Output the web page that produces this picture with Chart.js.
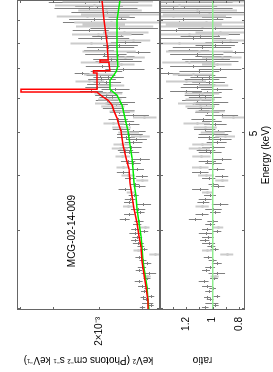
<!DOCTYPE html>
<html>
<head>
<meta charset="utf-8">
<script src="https://cdn.jsdelivr.net/npm/chart.js@4.4.1/dist/chart.umd.min.js"></script>
<style>
  html, body { margin: 0; padding: 0; background: #fff; }
  body { width: 273px; height: 372px; overflow: hidden; position: relative; }
  /* the figure is drawn upright, then turned a quarter turn to the left */
  #figure { position: absolute; left: 0; top: 0; width: 372px; height: 273px;
    transform-origin: 0 0; transform: translate(0, 372px) rotate(-90deg); }
  canvas { display: block; }
</style>
</head>
<body>
<div id="figure">
  <canvas id="spectrum" width="372" height="160"></canvas>
  <canvas id="ratio" width="372" height="113"></canvas>
</div>
<script>
// axis ranges and ticks
const energyMin = 1.985, energyMax = 10.05;
const fluxMin = 1.175e-3, fluxMax = 4.09e-3;
const ratioMin = 0.757, ratioMax = 1.396;

const energyTicks = [2, 3, 4, 5, 6, 7, 8, 9, 10];
const energyLabelTicks = [5];
const energyLabels = ['5'];
const fluxTicks = [2e-3, 3e-3, 4e-3];
const fluxLabelTicks = [2e-3];
const fluxLabels = ['2×10⁻³'];
const ratioTicks = [0.8, 0.9, 1.0, 1.1, 1.2, 1.3];
const ratioLabelTicks = [0.8, 1, 1.2];
const ratioLabels = ['0.8', '1', '1.2'];

const sourceName = 'MCG-02-14-009';
const sourceEnergy = 3.0, sourceFlux = 2.52e-3;

// data set 1 (dark)
const darkEnergy = [9.88, 9.67, 9.13, 8.93, 8.56, 8.37, 8.27, 8.04, 7.91, 7.70,
  7.60, 7.47, 7.27, 6.97, 6.83, 6.67, 6.52, 6.27, 6.17, 6.01,
  5.87, 5.63, 5.48, 5.30, 5.05, 4.96, 4.82, 4.63, 4.51, 4.35,
  4.26, 4.06, 3.99, 3.82, 3.72, 3.53, 3.43, 3.35, 3.26, 3.18,
  3.10, 3.02, 2.95, 2.89, 2.81, 2.72, 2.60, 2.53, 2.47, 2.40,
  2.30, 2.24, 2.18, 2.13, 2.09, 2.05, 2.01,
  9.60, 9.40, 9.05, 8.65, 8.19, 7.80, 7.53, 7.34, 7.08, 6.90,
  6.75, 6.60, 6.45, 6.33, 6.22, 6.09, 5.94, 5.80, 5.68, 5.55,
  5.36, 5.22, 5.10, 4.88, 4.75, 4.57, 4.30, 4.12, 3.93, 3.77,
  3.61, 3.48, 3.30, 3.14, 2.98, 2.85, 2.76, 2.57, 2.44, 2.33,
  2.21, 2.11, 2.03];
const darkFlux = [2.26e-3, 2.043e-3, 1.652e-3, 2.14e-3, 2.177e-3, 1.645e-3, 1.869e-3, 1.594e-3, 1.678e-3, 2.016e-3,
  1.424e-3, 1.700e-3, 1.720e-3, 1.619e-3, 2.323e-3, 1.856e-3, 1.874e-3, 1.744e-3, 1.825e-3, 1.785e-3,
  1.665e-3, 1.628e-3, 1.491e-3, 1.589e-3, 1.486e-3, 1.537e-3, 1.449e-3, 1.511e-3, 1.539e-3, 1.395e-3,
  1.483e-3, 1.620e-3, 1.378e-3, 1.461e-3, 1.596e-3, 1.526e-3, 1.359e-3, 1.425e-3, 1.538e-3, 1.600e-3,
  1.435e-3, 1.458e-3, 1.460e-3, 1.434e-3, 1.421e-3, 1.353e-3, 1.414e-3, 1.318e-3, 1.376e-3, 1.298e-3,
  1.416e-3, 1.374e-3, 1.354e-3, 1.268e-3, 1.331e-3, 1.310e-3, 1.369e-3,
  2.19e-3, 1.865e-3, 2.086e-3, 1.676e-3, 1.967e-3, 1.847e-3, 1.915e-3, 1.796e-3, 1.955e-3, 1.892e-3,
  1.982e-3, 1.963e-3, 2.000e-3, 2.036e-3, 2.148e-3, 1.881e-3, 1.873e-3, 1.719e-3, 1.771e-3, 1.674e-3,
  1.698e-3, 1.539e-3, 1.650e-3, 1.586e-3, 1.484e-3, 1.591e-3, 1.555e-3, 1.440e-3, 1.520e-3, 1.406e-3,
  1.479e-3, 1.543e-3, 1.401e-3, 1.412e-3, 1.351e-3, 1.464e-3, 1.389e-3, 1.363e-3, 1.412e-3, 1.317e-3,
  1.315e-3, 1.359e-3, 1.274e-3];
const darkFluxErr = [0.84e-3, 0.42e-3, 0.189e-3, 0.60e-3, 0.34e-3, 0.286e-3, 0.253e-3, 0.210e-3, 0.253e-3, 0.262e-3,
  0.147e-3, 0.233e-3, 0.342e-3, 0.274e-3, 0.150e-3, 0.245e-3, 0.224e-3, 0.212e-3, 0.194e-3, 0.208e-3,
  0.204e-3, 0.160e-3, 0.197e-3, 0.117e-3, 0.154e-3, 0.172e-3, 0.132e-3, 0.131e-3, 0.130e-3, 0.111e-3,
  0.093e-3, 0.092e-3, 0.072e-3, 0.054e-3, 0.091e-3, 0.071e-3, 0.089e-3, 0.089e-3, 0.070e-3, 0.069e-3,
  0.052e-3, 0.052e-3, 0.075e-3, 0.061e-3, 0.068e-3, 0.043e-3, 0.042e-3, 0.050e-3, 0.050e-3, 0.083e-3,
  0.049e-3, 0.049e-3, 0.033e-3, 0.033e-3, 0.033e-3, 0.064e-3, 0.032e-3,
  0.76e-3, 0.68e-3, 0.51e-3, 0.48e-3, 0.43e-3, 0.376e-3, 0.342e-3, 0.308e-3, 0.289e-3, 0.258e-3,
  0.248e-3, 0.236e-3, 0.218e-3, 0.218e-3, 0.215e-3, 0.188e-3, 0.184e-3, 0.164e-3, 0.163e-3, 0.145e-3,
  0.143e-3, 0.133e-3, 0.125e-3, 0.123e-3, 0.115e-3, 0.106e-3, 0.097e-3, 0.089e-3, 0.074e-3, 0.073e-3,
  0.065e-3, 0.065e-3, 0.057e-3, 0.056e-3, 0.049e-3, 0.048e-3, 0.041e-3, 0.041e-3, 0.040e-3, 0.040e-3,
  0.033e-3, 0.033e-3, 0.033e-3];
const darkRatio = [1.35, 1.216, 0.969, 1.25, 1.273, 0.962, 1.093, 0.932, 0.981, 1.179,
  0.833, 0.994, 1.006, 0.944, 1.335, 1.031, 1.031, 0.969, 1.043, 1.056,
  1.006, 1.006, 0.932, 1.006, 0.957, 0.994, 0.944, 0.994, 1.019, 0.932,
  0.994, 1.093, 0.932, 0.994, 1.093, 1.056, 0.944, 0.994, 1.080, 1.130,
  1.019, 1.043, 1.050, 1.036, 1.031, 0.986, 1.036, 0.969, 1.019, 0.969,
  1.068, 1.043, 1.031, 0.969, 1.019, 1.006, 1.056,
  1.30, 1.10, 1.22, 0.98, 1.15, 1.08, 1.12, 1.05, 1.15, 1.10,
  1.12, 1.08, 1.10, 1.12, 1.20, 1.10, 1.12, 1.05, 1.09, 1.04,
  1.07, 0.98, 1.06, 1.03, 0.97, 1.05, 1.04, 0.97, 1.03, 0.96,
  1.02, 1.07, 0.98, 1.00, 0.97, 1.06, 1.01, 1.00, 1.05, 0.99,
  1.00, 1.04, 0.98];
const darkRatioErr = [0.50, 0.25, 0.111, 0.35, 0.20, 0.167, 0.148, 0.123, 0.148, 0.153,
  0.086, 0.136, 0.200, 0.160, 0.086, 0.136, 0.123, 0.118, 0.111, 0.123,
  0.123, 0.099, 0.123, 0.074, 0.099, 0.111, 0.086, 0.086, 0.086, 0.074,
  0.062, 0.062, 0.049, 0.037, 0.062, 0.049, 0.062, 0.062, 0.049, 0.049,
  0.037, 0.037, 0.054, 0.044, 0.049, 0.031, 0.031, 0.037, 0.037, 0.062,
  0.037, 0.037, 0.025, 0.025, 0.025, 0.049, 0.025,
  0.45, 0.40, 0.30, 0.28, 0.25, 0.22, 0.20, 0.18, 0.17, 0.15,
  0.14, 0.13, 0.12, 0.12, 0.12, 0.11, 0.11, 0.10, 0.10, 0.09,
  0.09, 0.085, 0.08, 0.08, 0.075, 0.07, 0.065, 0.06, 0.05, 0.05,
  0.045, 0.045, 0.04, 0.04, 0.035, 0.035, 0.03, 0.03, 0.03, 0.03,
  0.025, 0.025, 0.025];

// data set 2 (light)
const lightEnergy = [9.97, 9.50, 9.29, 8.82, 8.71, 8.47, 8.12, 7.41, 7.15, 6.40,
  5.95, 5.73, 5.41, 5.14, 4.92, 4.71, 4.43, 4.17, 3.89, 3.66, 2.65, 2.36,
  9.75, 9.20, 8.90, 8.35, 7.98, 7.65, 7.22, 6.79, 6.55, 6.13,
  5.84, 5.58, 5.26, 5.00, 4.60, 4.00, 3.40, 3.05, 2.70];
const lightFlux = [2.00e-3, 1.888e-3, 1.744e-3, 1.953e-3, 1.847e-3, 1.614e-3, 1.488e-3, 1.594e-3, 1.657e-3, 1.807e-3,
  1.831e-3, 1.782e-3, 1.349e-3, 1.649e-3, 1.400e-3, 1.649e-3, 1.630e-3, 1.625e-3, 1.374e-3, 1.518e-3, 1.224e-3, 1.316e-3,
  2.096e-3, 2.213e-3, 1.796e-3, 2.018e-3, 2.138e-3, 1.881e-3, 2.006e-3, 2.018e-3, 2.182e-3, 1.858e-3,
  1.875e-3, 1.647e-3, 1.764e-3, 1.550e-3, 1.670e-3, 1.554e-3, 1.552e-3, 1.344e-3, 1.426e-3];
const lightFluxErr = [0.75e-3, 0.51e-3, 0.595e-3, 0.359e-3, 0.60e-3, 0.316e-3, 0.210e-3, 0.253e-3, 0.190e-3, 0.202e-3,
  0.186e-3, 0.181e-3, 0.137e-3, 0.134e-3, 0.114e-3, 0.113e-3, 0.104e-3, 0.092e-3, 0.072e-3, 0.054e-3, 0.067e-3, 0.041e-3,
  0.84e-3, 0.68e-3, 0.684e-3, 0.513e-3, 0.428e-3, 0.428e-3, 0.34e-3, 0.263e-3, 0.273e-3, 0.224e-3,
  0.197e-3, 0.178e-3, 0.158e-3, 0.14e-3, 0.121e-3, 0.089e-3, 0.072e-3, 0.056e-3, 0.055e-3];
const lightRatio = [1.20, 1.117, 1.026, 1.142, 1.080, 0.944, 0.870, 0.932, 0.969, 0.994,
  1.093, 1.093, 0.846, 1.056, 0.907, 1.080, 1.085, 1.093, 0.932, 1.043, 0.895, 0.986,
  1.25, 1.30, 1.05, 1.18, 1.25, 1.10, 1.18, 1.15, 1.20, 1.08,
  1.14, 1.02, 1.12, 1.00, 1.10, 1.05, 1.08, 0.96, 1.04];
const lightRatioErr = [0.45, 0.30, 0.35, 0.210, 0.35, 0.185, 0.123, 0.148, 0.111, 0.111,
  0.111, 0.111, 0.086, 0.086, 0.074, 0.074, 0.069, 0.062, 0.049, 0.037, 0.049, 0.031,
  0.50, 0.40, 0.40, 0.30, 0.25, 0.25, 0.20, 0.15, 0.15, 0.13,
  0.12, 0.11, 0.10, 0.09, 0.08, 0.06, 0.05, 0.04, 0.04];

// models
const redEnergy = [1.985, 2.08, 2.24, 2.39, 2.56, 2.76, 2.92, 3.13, 3.37, 3.60,
  3.86, 4.15, 4.40, 4.71, 5.06, 5.22, 5.42, 5.62, 5.80, 5.95,
  6.05, 6.15, 6.21, 6.21, 6.30, 6.30, 6.72, 6.86, 6.86, 6.94,
  6.94, 7.20, 7.26, 7.26, 7.34, 7.34, 7.46, 8.03, 9.05, 10.05];
const redFlux = [1.305e-3, 1.305e-3, 1.328e-3, 1.351e-3, 1.375e-3, 1.386e-3, 1.411e-3, 1.436e-3, 1.473e-3, 1.499e-3,
  1.527e-3, 1.540e-3, 1.580e-3, 1.623e-3, 1.651e-3, 1.680e-3, 1.710e-3, 1.754e-3, 1.786e-3, 1.850e-3,
  1.930e-3, 2.000e-3, 2.035e-3, 3.950e-3, 3.950e-3, 2.035e-3, 2.035e-3, 2.035e-3, 2.100e-3, 2.100e-3,
  1.818e-3, 1.834e-3, 1.834e-3, 1.983e-3, 1.983e-3, 1.845e-3, 1.850e-3, 1.866e-3, 1.913e-3, 1.948e-3];
const greenEnergy = [1.985, 2.08, 2.24, 2.39, 2.56, 2.76, 2.92, 3.13, 3.37, 3.60,
  3.86, 4.15, 4.40, 4.71, 5.06, 5.42, 5.80, 6.11, 6.24, 6.30,
  6.60, 6.80, 6.92, 7.10, 7.80, 9.05, 10.05];
const greenFlux = [1.294e-3, 1.305e-3, 1.317e-3, 1.339e-3, 1.363e-3, 1.375e-3, 1.386e-3, 1.411e-3, 1.436e-3, 1.449e-3,
  1.473e-3, 1.486e-3, 1.499e-3, 1.527e-3, 1.553e-3, 1.594e-3, 1.637e-3, 1.710e-3, 1.786e-3, 1.818e-3,
  1.818e-3, 1.754e-3, 1.720e-3, 1.700e-3, 1.710e-3, 1.710e-3, 1.666e-3];
const ratioModelEnergy = [1.985, 10.05];
const ratioModel = [1, 1];

const fluxTitle = 'keV² (Photons cm⁻² s⁻¹ keV⁻¹)';
const ratioTitle = 'ratio';
const energyTitle = 'Energy (keV)';

Chart.defaults.font.family = '"Liberation Sans", Arial, Helvetica, sans-serif';
Chart.defaults.font.size = 10;
Chart.defaults.color = '#000';

const pts = (xs, ys) => xs.map((x, i) => ({ x: x, y: ys[i] }));

// error bars, drawn under the model lines
const errorBars = {
  id: 'errorBars',
  beforeDatasetsDraw(chart) {
    const { ctx, chartArea: a, scales: { x, y } } = chart;
    ctx.save();
    ctx.beginPath();
    ctx.rect(a.left, a.top, a.width, a.height);
    ctx.clip();
    chart.data.datasets.forEach(ds => {
      if (!ds.yErr) return;
      ctx.strokeStyle = ds.barColor;
      ctx.lineWidth = ds.barWidth;
      ctx.beginPath();
      ds.data.forEach((p, i) => {
        const px = Math.round(x.getPixelForValue(p.x)) + 0.5;
        const py = Math.round(y.getPixelForValue(p.y)) + 0.5;
        ctx.moveTo(px, y.getPixelForValue(p.y - ds.yErr[i]));
        ctx.lineTo(px, y.getPixelForValue(p.y + ds.yErr[i]));
        ctx.moveTo(px - 1.5, py);
        ctx.lineTo(px + 1.5, py);
      });
      ctx.stroke();
    });
    ctx.restore();
  }
};

// box with inward ticks on all four sides
const frame = {
  id: 'frame',
  afterDraw(chart, args, opts) {
    const { ctx, chartArea: a, scales: { x, y } } = chart;
    ctx.save();
    ctx.strokeStyle = '#666';
    ctx.lineWidth = 1;
    ctx.strokeRect(a.left + 0.5, a.top + 0.5, a.width - 1, a.height - 1);
    ctx.beginPath();
    energyTicks.forEach(v => {
      const px = Math.round(x.getPixelForValue(v)) + 0.5;
      ctx.moveTo(px, a.top); ctx.lineTo(px, a.top + 3);
      ctx.moveTo(px, a.bottom); ctx.lineTo(px, a.bottom - 3);
    });
    opts.yTicks.forEach(v => {
      const py = Math.round(y.getPixelForValue(v)) + 0.5;
      ctx.moveTo(a.left, py); ctx.lineTo(a.left + 3, py);
      ctx.moveTo(a.right, py); ctx.lineTo(a.right - 3, py);
    });
    ctx.stroke();
    ctx.restore();
  }
};

const sourceLabel = {
  id: 'sourceLabel',
  afterDatasetsDraw(chart) {
    const { ctx, scales: { x, y } } = chart;
    ctx.save();
    ctx.font = '10px "Liberation Sans", Arial, sans-serif';
    ctx.fillStyle = '#000';
    ctx.textAlign = 'center';
    ctx.textBaseline = 'middle';
    ctx.fillText(sourceName, x.getPixelForValue(sourceEnergy), y.getPixelForValue(sourceFlux));
    ctx.restore();
  }
};

function labelFor(ticks, labels) {
  return v => {
    const i = ticks.findIndex(t => Math.abs(t - v) < 1e-9);
    return i < 0 ? null : labels[i];
  };
}

// keep the tick labels from pushing the plot box inwards
function noPadding(s) {
  s.paddingTop = 0; s.paddingBottom = 0; s.paddingLeft = 0; s.paddingRight = 0;
}

const energyAxis = {
  type: 'logarithmic',
  min: energyMin,
  max: energyMax,
  bounds: 'data',
  grid: { display: false, drawTicks: false },
  border: { display: false }
};

new Chart(document.getElementById('spectrum'), {
  type: 'scatter',
  data: {
    datasets: [
      { data: pts(redEnergy, redFlux), showLine: true, borderColor: '#ff0000', borderWidth: 1.5, pointRadius: 0 },
      { data: pts(greenEnergy, greenFlux), showLine: true, borderColor: '#00ee00', borderWidth: 1.5, pointRadius: 0 },
      { data: pts(darkEnergy, darkFlux), pointRadius: 0, yErr: darkFluxErr, barColor: '#808080', barWidth: 1 },
      { data: pts(lightEnergy, lightFlux), pointRadius: 0, yErr: lightFluxErr, barColor: '#cccccc', barWidth: 2 }
    ]
  },
  options: {
    responsive: false,
    animation: false,
    events: [],
    layout: { padding: { top: 17, right: 0, bottom: 0, left: 0 } },
    plugins: { legend: { display: false }, tooltip: { enabled: false }, frame: { yTicks: fluxTicks } },
    scales: {
      x: Object.assign({}, energyAxis, { display: false, afterFit: noPadding }),
      y: {
        type: 'logarithmic',
        min: fluxMin,
        max: fluxMax,
        bounds: 'data',
        grid: { display: false, drawTicks: false },
        border: { display: false },
        afterBuildTicks: s => { s.ticks = [fluxMin].concat(fluxLabelTicks, [fluxMax]).map(v => ({ value: v })); },
        afterFit: s => { s.width = 62; noPadding(s); },
        ticks: { padding: 7, callback: labelFor(fluxLabelTicks, fluxLabels) },
        title: { display: true, text: fluxTitle, padding: { top: 6, bottom: 0 } }
      }
    }
  },
  plugins: [errorBars, frame, sourceLabel]
});

new Chart(document.getElementById('ratio'), {
  type: 'scatter',
  data: {
    datasets: [
      { data: pts(ratioModelEnergy, ratioModel), showLine: true, borderColor: '#8fee8f', borderWidth: 1.5, pointRadius: 0 },
      { data: pts(darkEnergy, darkRatio), pointRadius: 0, yErr: darkRatioErr, barColor: '#808080', barWidth: 1 },
      { data: pts(lightEnergy, lightRatio), pointRadius: 0, yErr: lightRatioErr, barColor: '#cccccc', barWidth: 2 }
    ]
  },
  options: {
    responsive: false,
    animation: false,
    events: [],
    layout: { padding: { top: 0, right: 0, bottom: 0, left: 0 } },
    plugins: { legend: { display: false }, tooltip: { enabled: false }, frame: { yTicks: ratioTicks } },
    scales: {
      x: Object.assign({}, energyAxis, {
        position: 'bottom',
        afterBuildTicks: s => { s.ticks = [energyMin].concat(energyLabelTicks, [energyMax]).map(v => ({ value: v })); },
        afterFit: s => { s.height = 28; noPadding(s); },
        ticks: { padding: 3, autoSkip: false, maxRotation: 0, callback: labelFor(energyLabelTicks, energyLabels) },
        title: { display: true, text: energyTitle, padding: { top: 0, bottom: 1 } }
      }),
      y: {
        type: 'linear',
        min: ratioMin,
        max: ratioMax,
        bounds: 'data',
        grid: { display: false, drawTicks: false },
        border: { display: false },
        afterBuildTicks: s => { s.ticks = [ratioMin].concat(ratioLabelTicks, [ratioMax]).map(v => ({ value: v })); },
        afterFit: s => { s.width = 62; noPadding(s); },
        ticks: { padding: 7, callback: labelFor(ratioLabelTicks, ratioLabels) },
        title: { display: true, text: ratioTitle, padding: { top: 6, bottom: 0 } }
      }
    }
  },
  plugins: [errorBars, frame]
});
</script>
</body>
</html>
